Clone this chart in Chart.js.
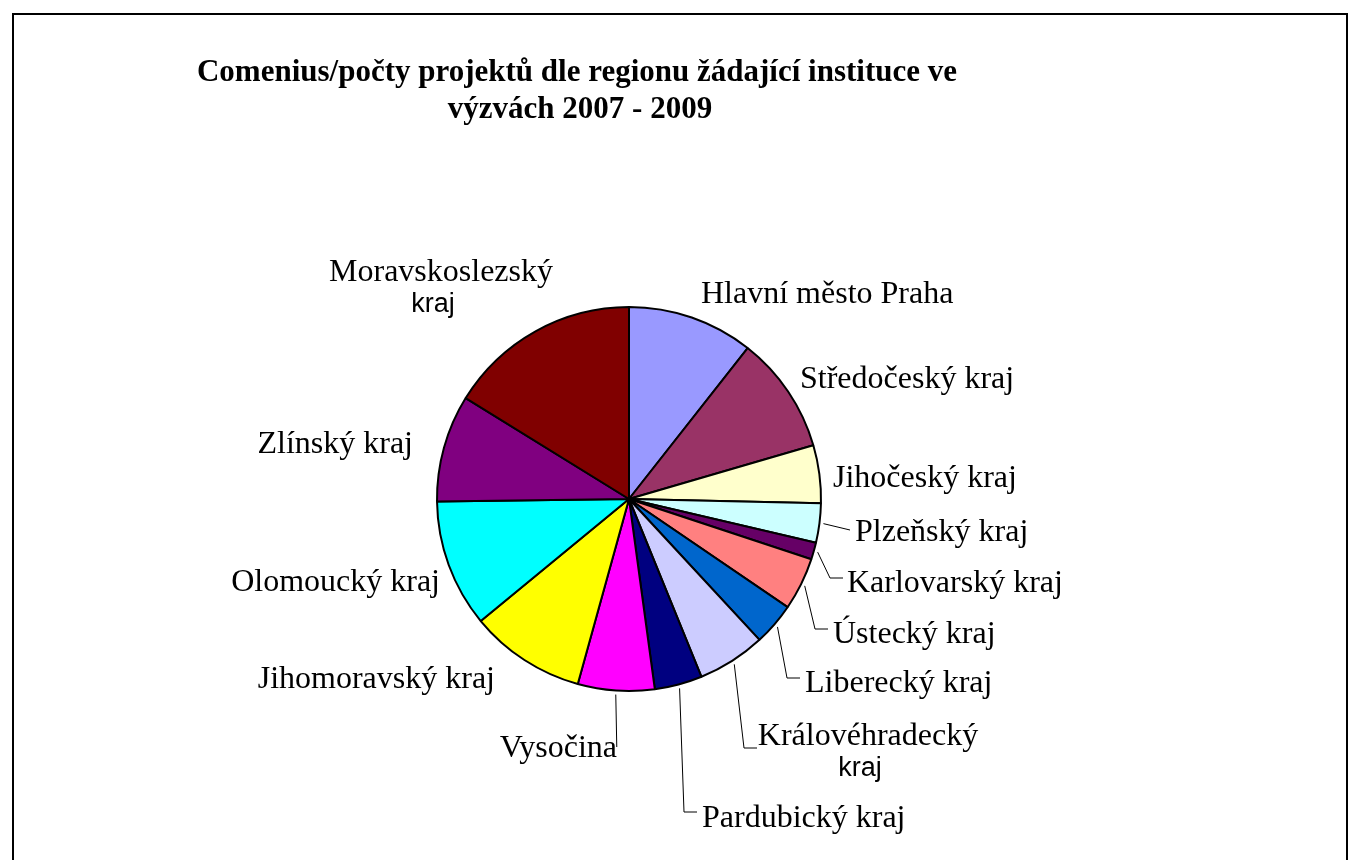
<!DOCTYPE html>
<html>
<head>
<meta charset="utf-8">
<script src="https://cdn.jsdelivr.net/npm/chart.js@4.4.1/dist/chart.umd.min.js"></script>
<style>
    html, body { margin: 0; padding: 0; background: #fff; overflow: hidden; }
    #frame {
        position: absolute; left: 12px; top: 13px;
        width: 1336px; height: 900px;
        border: 2px solid #000; box-sizing: border-box;
    }
    #pie { position: absolute; left: 0; top: 0; }
</style>
</head>
<body>
<div id="frame"></div>
<canvas id="pie" width="1356" height="860"></canvas>
<script>
// Kraje v pořadí po směru hodinových ručiček od 12 hodin
const regions = [
    'Hlavní město Praha', 'Středočeský kraj', 'Jihočeský kraj', 'Plzeňský kraj',
    'Karlovarský kraj', 'Ústecký kraj', 'Liberecký kraj', 'Královéhradecký kraj',
    'Pardubický kraj', 'Vysočina', 'Jihomoravský kraj', 'Olomoucký kraj',
    'Zlínský kraj', 'Moravskoslezský kraj'
];
// počty projektů
const projects = [74, 69, 34, 23, 10, 31, 25, 40, 28, 45, 68, 75, 63, 113];
const colors = [
    '#9999FF', '#993366', '#FFFFCC', '#CCFFFF', '#660066', '#FF8080', '#0066CC',
    '#CCCCFF', '#000080', '#FF00FF', '#FFFF00', '#00FFFF', '#800080', '#800000'
];
const titleLines = ['Comenius/počty projektů dle regionu žádající instituce ve', 'výzvách 2007 - 2009'];

// rozmístění popisků vůči středu koláče (px)
const labelLayout = [
    { dx: 72,   dy: -196, align: 'left' },
    { dx: 171,  dy: -111, align: 'left' },
    { dx: 204,  dy: -12,  align: 'left' },
    { dx: 226,  dy: 42,   align: 'left',  leader: 'straight', lx: 221, ly: 31 },
    { dx: 218,  dy: 93,   align: 'left',  leader: 'elbow', lx: 214, ly: 79 },
    { dx: 204,  dy: 144,  align: 'left',  leader: 'elbow', lx: 199, ly: 130 },
    { dx: 176,  dy: 193,  align: 'left',  leader: 'elbow', lx: 171, ly: 179 },
    { dx: 239,  dy: 246,  align: 'center', split: true, leader: 'elbow', lx: 128, ly: 249 },
    { dx: 73,   dy: 328,  align: 'left',  leader: 'elbow', lx: 68, ly: 313 },
    { dx: -12,  dy: 258,  align: 'right', leader: 'down', lx: -9, ly: 248 },
    { dx: -134, dy: 189,  align: 'right' },
    { dx: -189, dy: 92,   align: 'right' },
    { dx: -216, dy: -46,  align: 'right' },
    { dx: -188, dy: -218, align: 'center', split: true }
];

const SERIF = '"Liberation Serif", "Times New Roman", serif';
const SANS = '"Liberation Sans", Arial, sans-serif';

const labelsPlugin = {
    id: 'excelLabels',
    afterDraw(chart) {
        const ctx = chart.ctx;
        const arcs = chart.getDatasetMeta(0).data;
        ctx.save();
        ctx.fillStyle = '#000';

        // titulek
        ctx.font = 'bold 31px ' + SERIF;
        ctx.textAlign = 'center';
        ctx.textBaseline = 'alphabetic';
        ctx.fillText(titleLines[0], 577, 81);
        ctx.fillText(titleLines[1], 580, 118);

        arcs.forEach((arc, i) => {
            const lay = labelLayout[i];
            const cx = arc.x, cy = arc.y;
            const tx = cx + lay.dx, ty = cy + lay.dy;
            const mid = (arc.startAngle + arc.endAngle) / 2;

            if (lay.leader) {
                const r = arc.outerRadius + 4;
                const sx = cx + Math.cos(mid) * r;
                const sy = cy + Math.sin(mid) * r;
                const ex = cx + lay.lx, ey = cy + lay.ly;
                ctx.strokeStyle = '#000';
                ctx.lineWidth = 1;
                ctx.beginPath();
                ctx.moveTo(sx, sy);
                if (lay.leader === 'elbow') {
                    ctx.lineTo(ex - 13, ey);
                    ctx.lineTo(ex, ey);
                } else if (lay.leader === 'down') {
                    ctx.lineTo(sx + 1, ey);
                } else {
                    ctx.lineTo(ex, ey);
                }
                ctx.stroke();
            }

            ctx.textAlign = lay.align;
            if (lay.split) {
                const words = regions[i].split(' ');
                ctx.font = '32px ' + SERIF;
                ctx.fillText(words[0], tx, ty);
                ctx.font = '27px ' + SANS;
                ctx.fillText(words[1], tx - 8, ty + 31);
            } else {
                ctx.font = '32px ' + SERIF;
                ctx.fillText(regions[i], tx, ty);
            }
        });
        ctx.restore();
    }
};

new Chart(document.getElementById('pie'), {
    type: 'pie',
    data: {
        labels: regions,
        datasets: [{
            data: projects,
            backgroundColor: colors,
            borderColor: '#000',
            borderWidth: 2,
            hoverOffset: 0
        }]
    },
    options: {
        responsive: false,
        animation: false,
        events: [],
        devicePixelRatio: 1,
        layout: { padding: { left: 436, right: 534, top: 306, bottom: 168 } },
        plugins: {
            legend: { display: false },
            title: { display: false },
            tooltip: { enabled: false }
        }
    },
    plugins: [labelsPlugin]
});
</script>
</body>
</html>
